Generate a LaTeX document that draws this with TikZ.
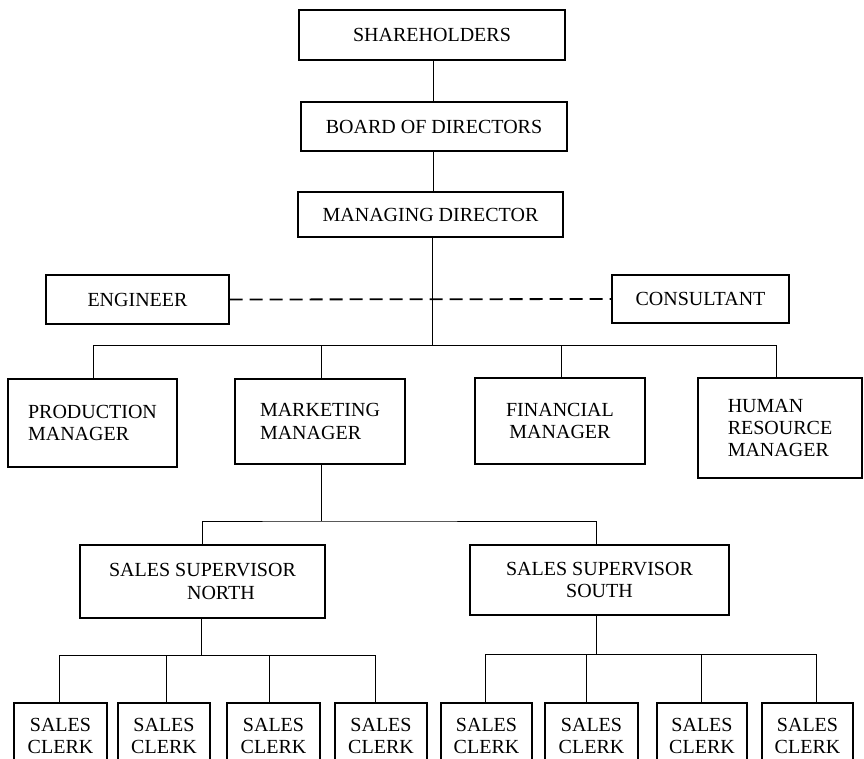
\documentclass[tikz,border=0pt]{standalone}
\usepackage{fontspec}
\setmainfont{Liberation Serif}
\begin{document}
\begin{tikzpicture}[x=1pt,y=-1pt,
  box/.style={draw, line width=1.3pt, inner sep=0pt, font=\fontsize{20}{22.5}\selectfont},
  clerk/.style={box, minimum width=92pt, minimum height=66pt, align=center},
  conn/.style={line width=0.9pt},
  dashconn/.style={line width=1.8pt, dash pattern=on 13pt off 7pt}]
\clip (0,0) rectangle (864,758);
\fill[white] (0,0) rectangle (864,758);

% top chain
\node[box, minimum width=266pt, minimum height=50pt] (sh) at (432,35) {SHAREHOLDERS};
\node[box, minimum width=266pt, minimum height=49pt] (bd) at (434,126.5) {BOARD OF DIRECTORS};
\node[box, minimum width=265pt, minimum height=45pt] (md) at (430.5,214.5) {MANAGING DIRECTOR};

% staff
\node[box, minimum width=183pt, minimum height=49pt] (eng) at (137.5,299.5) {ENGINEER};
\node[box, minimum width=177pt, minimum height=48pt] (con) at (700.5,299) {CONSULTANT};

% managers
\node[box, minimum width=169pt, minimum height=88pt, align=left] (pm) at (92.5,423) {PRODUCTION\\MANAGER};
\node[box, minimum width=170pt, minimum height=85pt, align=left] (mm) at (320,421.5) {MARKETING\\MANAGER};
\node[box, minimum width=170pt, minimum height=86pt, align=center] (fm) at (560,421) {FINANCIAL\\MANAGER};
\node[box, minimum width=164pt, minimum height=100pt, align=left, font=\fontsize{20}{21.8}\selectfont] (hr) at (780,428) {HUMAN\\RESOURCE\\MANAGER};

% supervisors
\node[box, minimum width=245pt, minimum height=73pt, align=left] (ssn) at (202.5,581.5) {SALES SUPERVISOR\\\hspace*{78pt}NORTH};
\node[box, minimum width=259pt, minimum height=70pt, align=center] (sss) at (599.5,580) {SALES SUPERVISOR\\SOUTH};

% clerks
\node[clerk, minimum width=93pt] (cn1) at (60.5,736) {SALES\\CLERK};
\node[clerk] (cn2) at (164,736) {SALES\\CLERK};
\node[clerk, minimum width=93pt] (cn3) at (273.5,736) {SALES\\CLERK};
\node[clerk] (cn4) at (381,736) {SALES\\CLERK};
\node[clerk, minimum width=91pt] (cs1) at (486.5,736) {SALES\\CLERK};
\node[clerk, minimum width=93pt] (cs2) at (591.5,736) {SALES\\CLERK};
\node[clerk, minimum width=90pt] (cs3) at (702,736) {SALES\\CLERK};
\node[clerk, minimum width=91pt] (cs4) at (807.5,736) {SALES\\CLERK};

% connectors: top chain
\coordinate (b1) at (432,345);
\draw[conn] ([xshift=1pt]sh.south) -- ([xshift=1pt]sh.south |- bd.north);
\draw[conn] ([xshift=-1pt]bd.south) -- ([xshift=-1pt]bd.south |- md.north);
\draw[conn] (md.south -| b1) -- (b1);
\draw[dashconn] (eng.east) -- (con.west);

% managers bus
\draw[conn] ([xshift=0.5pt]pm.north) |- ([xshift=-4pt]hr.north |- b1) -- ([xshift=-4pt]hr.north);
\draw[conn] ([xshift=1pt]mm.north) -- ([xshift=1pt]mm.north |- b1);
\draw[conn] ([xshift=1pt]fm.north) -- ([xshift=1pt]fm.north |- b1);

% marketing to supervisors
\coordinate (b2) at (321,521);
\draw[conn] ([xshift=1pt]mm.south) -- (b2);
\draw[conn] ([xshift=-0.5pt]ssn.north) |- (b2) -| ([xshift=-3.5pt]sss.north);

% north clerks
\coordinate (b3) at (201,655);
\draw[conn] (ssn.south -| b3) -- (b3);
\draw[conn] ([xshift=-1.5pt]cn1.north) |- ([xshift=-6pt]cn4.north |- b3) -- ([xshift=-6pt]cn4.north);
\draw[conn] ([xshift=2pt]cn2.north) -- ([xshift=2pt]cn2.north |- b3);
\draw[conn] ([xshift=-4.5pt]cn3.north) -- ([xshift=-4.5pt]cn3.north |- b3);

% south clerks
\coordinate (b4) at (596,654);
\draw[conn] (sss.south -| b4) -- (b4);
\draw[conn] ([xshift=-1.5pt]cs1.north) |- ([xshift=8.5pt]cs4.north |- b4) -- ([xshift=8.5pt]cs4.north);
\draw[conn] ([xshift=-5.5pt]cs2.north) -- ([xshift=-5.5pt]cs2.north |- b4);
\draw[conn] ([xshift=-1pt]cs3.north) -- ([xshift=-1pt]cs3.north |- b4);
\end{tikzpicture}
\end{document}
